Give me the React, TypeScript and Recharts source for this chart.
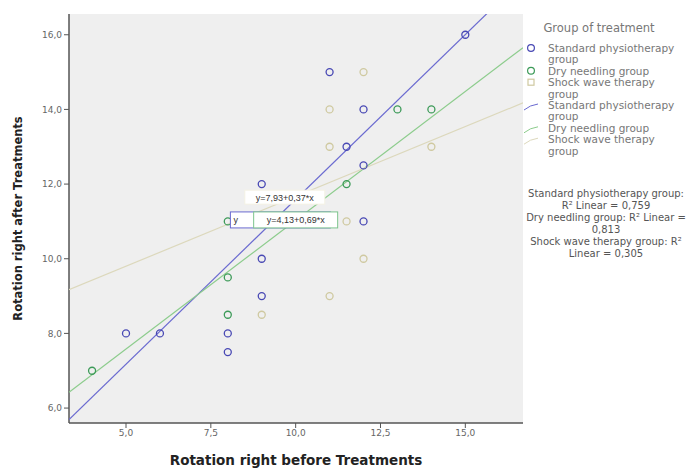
import React from 'react';
import { ScatterChart, Scatter, XAxis, YAxis, CartesianGrid, ReferenceDot } from 'recharts';

const groupNames = ['Standard physiotherapy group', 'Dry needling group', 'Shock wave therapy group'];
const colors = ['#4848b4', '#3c9a58', '#cfc9a0'];
const lineColors = ['#6a6ad0', '#8ccc8c', '#dcd8bc'];

const standardX = [15, 11, 11.5, 12, 12, 9, 9, 9, 8, 8, 5, 6, 12];
const standardY = [16, 15, 13, 14, 12.5, 12, 10, 9, 8, 7.5, 8, 8, 11];
const dryX = [13, 14, 11.5, 8, 8, 4, 8];
const dryY = [14, 14, 12, 9.5, 8.5, 7, 11];
const shockX = [12, 11, 11, 14, 12, 11, 9, 11.5];
const shockY = [15, 14, 13, 13, 10, 9, 8.5, 11];

const intercepts = [2.76, 4.13, 7.93];
const slopes = [0.883, 0.69, 0.374];
const eqLabels = ['y', 'y=4,13+0,69*x', 'y=7,93+0,37*x'];
const r2Lines = [
  'Standard physiotherapy group:',
  'R\u00B2 Linear = 0,759',
  'Dry needling group: R\u00B2 Linear =',
  '0,813',
  'Shock wave therapy group: R\u00B2',
  'Linear = 0,305',
];

const xTicks = [5, 7.5, 10, 12.5, 15];
const yTicks = [6, 8, 10, 12, 14, 16];
const xDomain = [3.32, 16.7];
const yDomain = [5.6, 16.556];

const toPts = (xs: number[], ys: number[]) => xs.map((x, i) => ({ x, y: ys[i] }));
const seriesData = [toPts(standardX, standardY), toPts(dryX, dryY), toPts(shockX, shockY)];
const lineData = intercepts.map((a, i) => [
  { x: xDomain[0], y: a + slopes[i] * xDomain[0] },
  { x: xDomain[1], y: a + slopes[i] * xDomain[1] },
]);

const fmt = (v: number) => v.toFixed(1).replace('.', ',');
const FONT = 'Liberation Sans, Arial, sans-serif';
const DV = 'DejaVu Sans, sans-serif';

const makeCircle = (color: string) => (props: any) => (
  <circle cx={props.cx} cy={props.cy} r={3.5} fill="none" stroke={color} strokeWidth={1.3} />
);

const eqBox = (text: string, border: string, w: number, left?: boolean) => (props: any) => (
  <g>
    <rect x={props.cx - w / 2} y={props.cy - 8} width={w} height={16} fill="#ffffff" stroke={border} strokeWidth={1} />
    <text x={left ? props.cx - w / 2 + 3 : props.cx} y={props.cy + 3.5} textAnchor={left ? 'start' : 'middle'} fontSize={9} fontFamily={FONT} fill="#333">{text}</text>
  </g>
);

const eqText = (text: string) => (props: any) => (
  <g>
    <rect x={props.cx - 40} y={props.cy - 7} width={80} height={14} fill="#ffffff" stroke="#f4f2e4" strokeWidth={1} />
    <text x={props.cx} y={props.cy + 3.5} textAnchor="middle" fontSize={9} fontFamily={FONT} fill="#333">{text}</text>
  </g>
);

const YLabel = (props: any) => {
  const vb = props.viewBox;
  const cy = vb.y + vb.height / 2;
  return (
    <text x={18} y={cy} transform={`rotate(-90 18 ${cy})`} textAnchor="middle" dominantBaseline="central" fontSize={11.5} fontWeight="bold" fontFamily={DV} fill="#222">
      Rotation right after Treatments
    </text>
  );
};

const LegendPanel = () => {
  const txt = { fontSize: 10.5, fontFamily: DV, fill: '#777' };
  const items = [
    { kind: 'circle', c: colors[0], lines: ['Standard physiotherapy', 'group'] },
    { kind: 'circle', c: colors[1], lines: ['Dry needling group'] },
    { kind: 'square', c: colors[2], lines: ['Shock wave therapy', 'group'] },
    { kind: 'line', c: lineColors[0], lines: ['Standard physiotherapy', 'group'] },
    { kind: 'line', c: lineColors[1], lines: ['Dry needling group'] },
    { kind: 'line', c: lineColors[2], lines: ['Shock wave therapy', 'group'] },
  ];
  let row = 0;
  const step = 11.4;
  return (
    <svg width={166} height={270} style={{ position: 'absolute', left: 524, top: 0, display: 'block' }}>
      <text x={75} y={32} textAnchor="middle" fontSize={11.5} fontFamily={DV} fill="#777">Group of treatment</text>
      {items.map((it, i) => {
        const y0 = 52 + row * step;
        row += it.lines.length;
        return (
          <g key={i}>
            {it.kind === 'circle' && <circle cx={7} cy={y0 - 4} r={3.4} fill="none" stroke={it.c} strokeWidth={1.2} />}
            {it.kind === 'square' && <rect x={4} y={y0 - 7} width={6} height={6} fill="none" stroke={it.c} strokeWidth={1.2} />}
            {it.kind === 'line' && <path d={`M0 ${y0 + 1} Q6 ${y0 - 4} 14 ${y0 - 5}`} fill="none" stroke={it.c} strokeWidth={1} />}
            {it.lines.map((l, j) => (
              <text key={j} x={24} y={y0 + j * step} {...txt}>{l}</text>
            ))}
          </g>
        );
      })}
      {r2Lines.map((l, j) => (
        <text key={'r' + j} x={82} y={197 + j * 12} textAnchor="middle" fontSize={10} fontFamily={DV} fill="#555">{l}</text>
      ))}
    </svg>
  );
};

export default function App() {
  return (
    <div style={{ position: 'absolute', left: 0, top: 0, width: 690, height: 469, background: '#ffffff' }}>
      <ScatterChart width={690} height={469} margin={{ top: 14, right: 167, bottom: 0, left: 19 }}>
        <CartesianGrid horizontal={false} vertical={false} fill="#efefef" />
        <XAxis
          type="number"
          dataKey="x"
          xAxisId="b"
          domain={xDomain}
          ticks={xTicks}
          tickFormatter={fmt}
          allowDataOverflow
          height={46}
          axisLine={{ stroke: '#555', strokeWidth: 1.5 }}
          tickLine={{ stroke: '#555' }}
          tickSize={5}
          tick={{ fontSize: 9, fill: '#666', fontFamily: DV }}
          label={{ value: 'Rotation right before Treatments', position: 'insideBottom', offset: 4, style: { fontSize: 13.5, fontWeight: 'bold', fill: '#222', fontFamily: DV } }}
        />
        <XAxis xAxisId="t" orientation="top" type="number" dataKey="x" domain={xDomain} allowDataOverflow height={0} tick={false} tickLine={false} axisLine={{ stroke: '#aaa' }} />
        <YAxis
          type="number"
          dataKey="y"
          yAxisId="l"
          domain={yDomain}
          ticks={yTicks}
          tickFormatter={fmt}
          allowDataOverflow
          width={50}
          axisLine={{ stroke: '#555', strokeWidth: 1.5 }}
          tickLine={{ stroke: '#555' }}
          tickSize={5}
          tick={{ fontSize: 9, fill: '#666', fontFamily: DV }}
          label={<YLabel />}
        />
        <YAxis yAxisId="r" orientation="right" type="number" dataKey="y" domain={yDomain} allowDataOverflow width={0} tick={false} tickLine={false} axisLine={{ stroke: '#aaa' }} />
        {lineData.map((d, i) => (
          <Scatter
            key={'l' + i}
            xAxisId="b"
            yAxisId="l"
            data={d}
            line={{ stroke: lineColors[i], strokeWidth: 1.2 }}
            shape={() => <g />}
            legendType="none"
            isAnimationActive={false}
          />
        ))}
        {seriesData.map((d, i) => (
          <Scatter
            key={'s' + i}
            name={groupNames[i]}
            xAxisId="b"
            yAxisId="l"
            data={d}
            shape={makeCircle(colors[i])}
            isAnimationActive={false}
          />
        ))}
        <ReferenceDot xAxisId="b" yAxisId="l" x={9.55} y={11.04} r={0} shape={eqBox(eqLabels[0], '#6a6ad0', 100, true)} />
        <ReferenceDot xAxisId="b" yAxisId="l" x={9.68} y={11.65} r={0} shape={eqText(eqLabels[2])} />
        <ReferenceDot xAxisId="b" yAxisId="l" x={10.0} y={11.04} r={0} shape={eqBox(eqLabels[1], '#7cc48c', 84)} />
      </ScatterChart>
      <LegendPanel />
    </div>
  );
}
